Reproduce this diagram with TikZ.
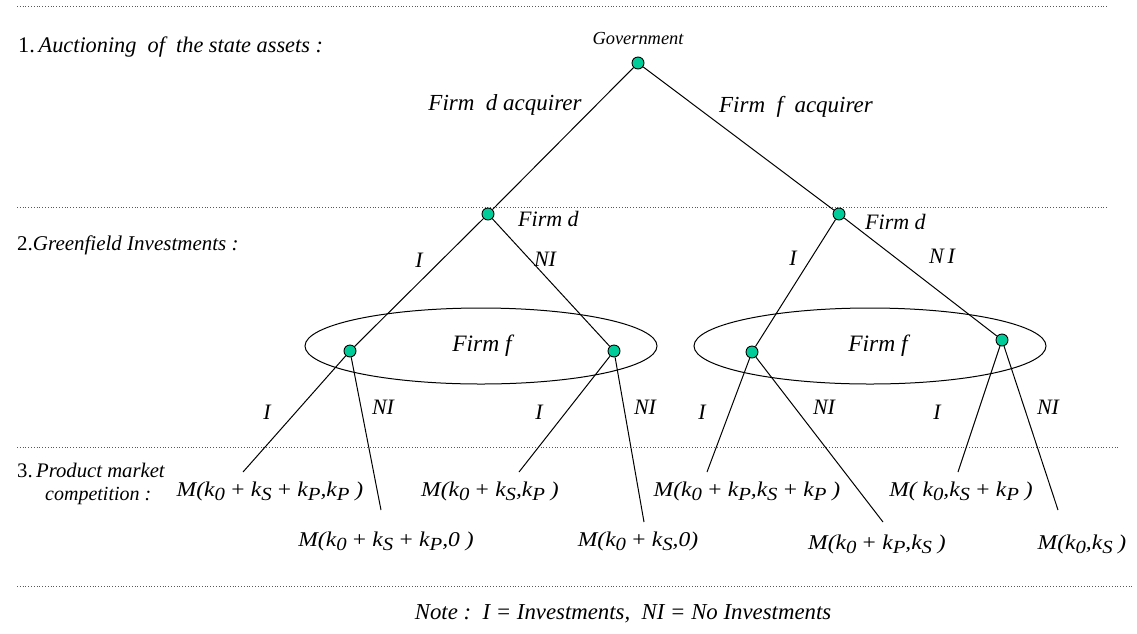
\documentclass[tikz,border=0pt]{standalone}
\usepackage{fontspec}
\setmainfont{Liberation Serif}
\newfontfamily\mfont[FakeStretch=1.12]{Liberation Serif}
\usetikzlibrary{shapes.geometric}
\definecolor{nodegreen}{RGB}{0,204,153}
\newcommand\lo[1]{\raisebox{-0.45ex}{\fontsize{18.5}{18}\selectfont #1}}
\newcommand\pl{\hspace{0.3em}\upshape+\hspace{0.3em}\itshape}
\begin{document}
\begin{tikzpicture}[x=1pt,y=-1pt,
  dec/.style={circle,draw=black,fill=nodegreen,line width=0.9pt,minimum size=12pt,inner sep=0pt},
  edge/.style={line width=1pt},
  sep/.style={dotted,line width=0.8pt,gray!70!black},
  lab/.style={font=\fontsize{22}{26}\selectfont\itshape,inner sep=0pt},
  mlab/.style={font=\mfont\fontsize{21}{26}\selectfont\itshape,inner sep=0pt},
  slab/.style={font=\fontsize{21}{24}\selectfont,inner sep=0pt,anchor=west},
  info/.style={ellipse,draw=black,line width=1pt,minimum width=352pt,minimum height=76pt,inner sep=0pt}]
\useasboundingbox (0,0) rectangle (1137,633);
% separators
\coordinate (s1a) at (17,6); \coordinate (s1b) at (1107,6);
\coordinate (s2a) at (17,207); \coordinate (s2b) at (1107,207);
\coordinate (s3a) at (17,447); \coordinate (s3b) at (1119,447);
\coordinate (s4a) at (17,586); \coordinate (s4b) at (1132,586);
\draw[sep] (s1a) -- (s1b);
\draw[sep] (s2a) -- (s2b);
\draw[sep] (s3a) -- (s3b);
\draw[sep] (s4a) -- (s4b);
% info sets
\node[info] (is1) at (481,346) {};
\node[info] (is2) at (870,346) {};
\node[lab,font=\fontsize{23.5}{26}\selectfont\itshape] (isl1) at (482,346) {Firm f};
\node[lab,font=\fontsize{23.5}{26}\selectfont\itshape] (isl2) at (878,346) {Firm f};
% decision nodes
\node[dec] (g) at (638,63) {};
\node[dec] (d1) at (488,214) {};
\node[dec] (d2) at (839,214) {};
\node[dec] (f1) at (350,351) {};
\node[dec] (f2) at (614,351) {};
\node[dec] (f3) at (752,352) {};
\node[dec] (f4) at (1002,340) {};
% leaf ends
\coordinate (e1) at (243,472);
\coordinate (e2) at (381,510);
\coordinate (e3) at (519,472);
\coordinate (e4) at (644,522);
\coordinate (e5) at (707,472);
\coordinate (e6) at (883,522);
\coordinate (e7) at (958,472);
\coordinate (e8) at (1058,510);
% edges
\draw[edge] (g) -- (d1);
\draw[edge] (g) -- (d2);
\draw[edge] (d1) -- (f1);
\draw[edge] (d1) -- (f2);
\draw[edge] (d2) -- (f3);
\draw[edge] (d2) -- (f4);
\draw[edge] (f1) -- (e1);
\draw[edge] (f1) -- (e2);
\draw[edge] (f2) -- (e3);
\draw[edge] (f2) -- (e4);
\draw[edge] (f3) -- (e5);
\draw[edge] (f3) -- (e6);
\draw[edge] (f4) -- (e7);
\draw[edge] (f4) -- (e8);
% labels
\node[lab,font=\fontsize{18.4}{20}\selectfont\itshape] (gl) at (638,38) {Government};
\node[lab,font=\fontsize{23}{26}\selectfont\itshape] (la) at (505,105) {Firm\ \ d acquirer};
\node[lab,font=\fontsize{23}{26}\selectfont\itshape] (lb) at (796,107) {Firm\ \ f\ \ acquirer};
\node[lab,anchor=west] (ld1) at (518,219) {Firm d};
\node[lab,anchor=west] (ld2) at (865,222) {Firm d};
\node[lab] (l1) at (419,260) {I};
\node[lab] (l2) at (545,259) {NI};
\node[lab] (l3) at (793,258) {I};
\node[lab] (l4) at (942,256) {N\,I};
\node[lab] (l5) at (267,412) {I};
\node[lab] (l6) at (383,407) {NI};
\node[lab] (l7) at (539,412) {I};
\node[lab] (l8) at (645,407) {NI};
\node[lab] (l9) at (702,412) {I};
\node[lab] (l10) at (824,407) {NI};
\node[lab] (l11) at (937,412) {I};
\node[lab] (l12) at (1048,407) {NI};
% stage labels
\node[slab,font=\fontsize{22.3}{24}\selectfont] (st1) at (18,47) {1.\,\itshape Auctioning\ \ of\ \ the state assets :};
\node[slab] (st2) at (17,245) {2.\itshape Greenfield Investments :};
\node[slab,font=\fontsize{20.7}{24}\selectfont] (st3) at (17,470) {3.\,\itshape Product market};
\node[slab,font=\fontsize{20}{24}\selectfont] (st3b) at (45,496) {\itshape competition :};
% payoffs
\node[mlab] (m1) at (270,491) {M(k\lo{0}\pl k\lo{S}\pl k\lo{P},k\lo{P}\ )};
\node[mlab] (m2) at (386,541) {M(k\lo{0}\pl k\lo{S}\pl k\lo{P},0\ )};
\node[mlab] (m3) at (490,491) {M(k\lo{0}\pl k\lo{S},k\lo{P}\ )};
\node[mlab] (m4) at (638,541) {M(k\lo{0}\pl k\lo{S},0)};
\node[mlab] (m5) at (747,491) {M(k\lo{0}\pl k\lo{P},k\lo{S}\pl k\lo{P}\ )};
\node[mlab] (m6) at (877,544) {M(k\lo{0}\pl k\lo{P},k\lo{S}\ )};
\node[mlab] (m7) at (961,491) {M(\ k\lo{0},k\lo{S}\pl k\lo{P}\ )};
\node[mlab] (m8) at (1082,544) {M(k\lo{0},k\lo{S}\ )};
% note
\node[lab,font=\fontsize{22.8}{26}\selectfont\itshape] (note) at (623,614) {Note :\ \ I = Investments,\ \ NI = No Investments};
\end{tikzpicture}
\end{document}
